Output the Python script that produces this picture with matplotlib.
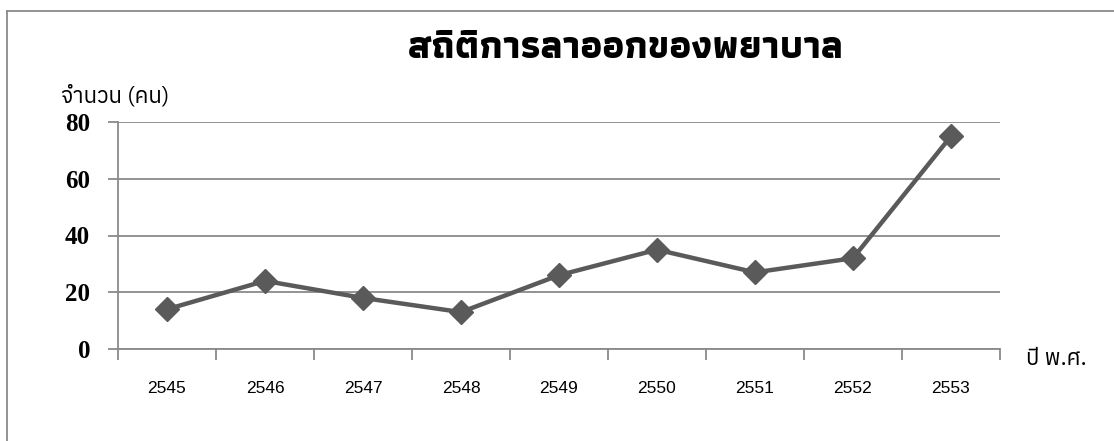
import matplotlib
matplotlib.use("Agg")
import matplotlib.pyplot as plt
from matplotlib import font_manager
from matplotlib.font_manager import FontProperties
from matplotlib.ft2font import FT2Font
from matplotlib.lines import Line2D

years = ["2545", "2546", "2547", "2548", "2549", "2550", "2551", "2552", "2553"]
counts = [14, 24, 18, 13, 26, 35, 27, 32, 75]
yticks = [0, 20, 40, 60, 80]
title = "สถิติการลาออกของพยาบาล"
ylabel = "จำนวน (คน)"
xlabel = "ปี พ.ศ."

# find fonts with Thai glyphs
thai = []
for f in font_manager.fontManager.ttflist:
    try:
        cm = FT2Font(f.fname).get_charmap()
    except Exception:
        continue
    if ord("ส") in cm:
        thai.append(f)


def wnum(w):
    if isinstance(w, int):
        return w
    return {"bold": 700, "semibold": 600, "demibold": 600, "heavy": 800,
            "black": 900, "extra bold": 800, "normal": 400, "regular": 400}.get(str(w).lower(), 400)


def pick(bold):
    cands = sorted(thai, key=lambda f: (abs(wnum(f.weight) - (700 if bold else 400)),
                                         f.style != "normal", "UI" in f.name, f.name))
    if cands:
        return FontProperties(fname=cands[0].fname)
    return FontProperties(family="DejaVu Sans", weight="bold" if bold else "normal")


fp_reg = pick(False)
fp_bold = pick(True)

fig = plt.figure(figsize=(11.14, 4.41), dpi=100)
W, H = 1114, 441
ax = fig.add_axes([118 / W, 1 - 349 / H, (1000 - 118) / W, (349 - 122) / H])

grey = "#8a8a8a"
x = list(range(len(years)))
ax.plot(x, counts, color="#5a5a5a", lw=3.2, marker="D", markersize=12,
        markerfacecolor="#5a5a5a", markeredgecolor="#5a5a5a", zorder=3, clip_on=False)

ax.set_xlim(-0.5, len(years) - 0.5)
ax.set_ylim(0, 80)
ax.set_yticks(yticks)
ax.set_yticklabels([str(v) for v in yticks], family="Liberation Serif", fontsize=18,
                   fontweight="bold")
ax.yaxis.grid(True, color=grey, lw=1.3)
ax.set_axisbelow(True)

ax.set_xticks([i - 0.5 for i in range(len(years) + 1)])
ax.set_xticklabels([])
ax.set_xticks(x, minor=True)
ax.set_xticklabels(years, minor=True, family="Liberation Sans", fontsize=12.5)
ax.tick_params(axis="x", which="major", length=8, width=1.3, color=grey, direction="out")
ax.tick_params(axis="x", which="minor", length=0, pad=23)
ax.tick_params(axis="y", length=7, width=1.3, color=grey, pad=13)

for s in ["top", "right"]:
    ax.spines[s].set_visible(False)
for s in ["left", "bottom"]:
    ax.spines[s].set_color(grey)
    ax.spines[s].set_linewidth(1.3)

fp_t = fp_bold.copy()
fp_t.set_size(28)
fig.text(626 / W, 1 - 58 / H, title, ha="center", va="baseline", fontproperties=fp_t)
fp_y = fp_reg.copy()
fp_y.set_size(16)
fig.text(61 / W, 1 - 102 / H, ylabel, ha="left", va="baseline", fontproperties=fp_y)
fp_x = fp_reg.copy()
fp_x.set_size(16)
fig.text(1026 / W, 1 - 365 / H, xlabel, ha="left", va="baseline", fontproperties=fp_x)

# outer border (top and left)
fig.add_artist(Line2D([7 / W, 1], [1 - 11 / H, 1 - 11 / H], color=grey, lw=1.3, transform=fig.transFigure))
fig.add_artist(Line2D([7 / W, 7 / W], [1 - 11 / H, 0], color=grey, lw=1.3, transform=fig.transFigure))

fig.savefig("out.png", dpi=100)
